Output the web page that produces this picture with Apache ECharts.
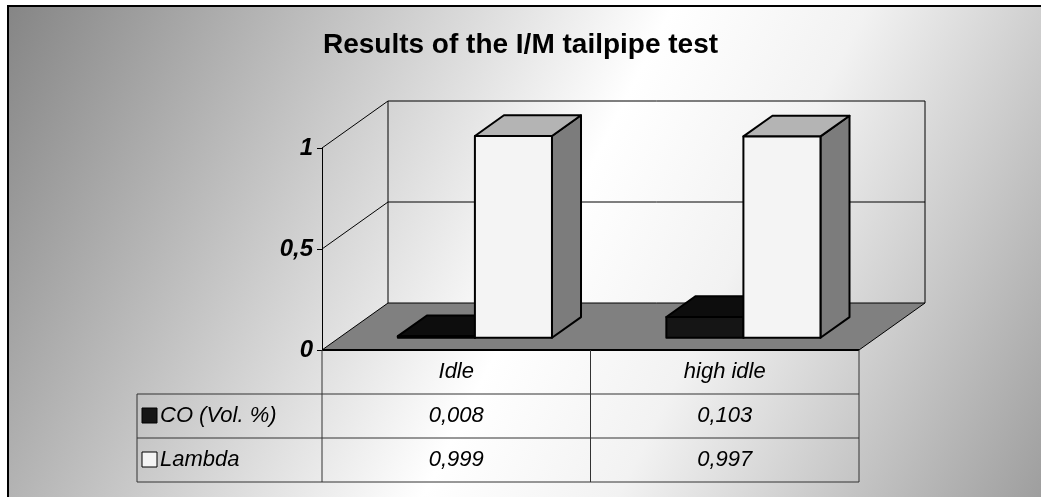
<!DOCTYPE html>
<html>
<head>
<meta charset="utf-8">
<title>Results of the I/M tailpipe test</title>
<script src="https://cdn.jsdelivr.net/npm/echarts@6/dist/echarts.min.js"></script>
<style>
  html, body { margin: 0; padding: 0; background: #fff; }
  #chart { width: 1041px; height: 497px; }
</style>
</head>
<body>
<div id="chart"></div>
<script>
// data
const categories = ['Idle', 'high idle'];
const seriesNames = ['CO (Vol. %)', 'Lambda'];
const coValues = [0.008, 0.103];
const lambdaValues = [0.999, 0.997];
const yTicks = [0, 0.5, 1];

const FONT = "'Liberation Sans', Arial, sans-serif";
const DEPTH = [66, -47];      // 3d depth offset of the floor
const BAR_FRONT = 0.26;       // bar front position inside depth
const BAR_BACK = 0.70;
const BAR_W = 0.287;          // bar width as share of category
const ROW_H = 44;
const LEGEND_W = 185;

const chart = echarts.init(document.getElementById('chart'));

function fmt(v) {
  return String(v).replace('.', ',');
}

// bars data: [category index, value, series index]
const barData = [];
categories.forEach((c, i) => {
  barData.push([i, coValues[i], 0]);
  barData.push([i, lambdaValues[i], 1]);
});

const barColors = [
  { front: '#151515', top: '#0d0d0d', side: '#222222' },
  { front: '#f4f4f4', top: '#b4b4b4', side: '#7c7c7c' }
];

function renderBar(params, api) {
  const i = api.value(0);
  const v = api.value(1);
  const s = api.value(2);
  const base = api.coord([i, 0]);
  const top = api.coord([i, v]);
  const cw = api.size([1, 0])[0];
  const bw = cw * BAR_W;
  const x0 = base[0] + (s === 0 ? -bw : 0) + BAR_FRONT * DEPTH[0] + 1.5;
  const yb = base[1] + BAR_FRONT * DEPTH[1];
  const yt = top[1] + BAR_FRONT * DEPTH[1];
  const dx = (BAR_BACK - BAR_FRONT) * DEPTH[0];
  const dy = (BAR_BACK - BAR_FRONT) * DEPTH[1];
  const col = barColors[s];
  const line = { stroke: '#000', lineWidth: 2, lineJoin: 'round' };
  return {
    type: 'group',
    children: [
      {
        type: 'polygon',
        shape: { points: [[x0 + bw, yt], [x0 + bw + dx, yt + dy], [x0 + bw + dx, yb + dy], [x0 + bw, yb]] },
        style: Object.assign({ fill: col.side }, line)
      },
      {
        type: 'polygon',
        shape: { points: [[x0, yt], [x0 + dx, yt + dy], [x0 + bw + dx, yt + dy], [x0 + bw, yt]] },
        style: Object.assign({ fill: col.top }, line)
      },
      {
        type: 'rect',
        shape: { x: x0, y: yt, width: bw, height: yb - yt },
        style: Object.assign({ fill: col.front }, line)
      }
    ]
  };
}

// walls, floor and back grid lines
function renderFrame(params, api) {
  const cs = params.coordSys;
  const gx = cs.x, gw = cs.width;
  const y0 = api.coord([0, 0])[1];
  const y1 = api.coord([0, 1])[1];
  const kids = [];
  const thin = { stroke: '#000', lineWidth: 1 };
  // floor
  kids.push({
    type: 'polygon',
    shape: { points: [[gx, y0], [gx + gw, y0], [gx + gw + DEPTH[0], y0 + DEPTH[1]], [gx + DEPTH[0], y0 + DEPTH[1]]] },
    style: { fill: '#808080', stroke: '#000', lineWidth: 1 }
  });
  kids.push({
    type: 'line',
    shape: { x1: gx, y1: y0, x2: gx + gw, y2: y0 },
    style: { stroke: '#000', lineWidth: 2 }
  });
  // back wall edges
  kids.push({ type: 'line', shape: { x1: gx + DEPTH[0], y1: y1 + DEPTH[1], x2: gx + DEPTH[0], y2: y0 + DEPTH[1] }, style: thin });
  kids.push({ type: 'line', shape: { x1: gx + gw + DEPTH[0], y1: y1 + DEPTH[1], x2: gx + gw + DEPTH[0], y2: y0 + DEPTH[1] }, style: thin });
  yTicks.forEach(t => {
    if (t === 0) return;
    const y = api.coord([0, t])[1];
    kids.push({ type: 'line', shape: { x1: gx, y1: y, x2: gx + DEPTH[0], y2: y + DEPTH[1] }, style: thin });
    kids.push({ type: 'line', shape: { x1: gx + DEPTH[0], y1: y + DEPTH[1], x2: gx + gw + DEPTH[0], y2: y + DEPTH[1] }, style: thin });
  });
  return { type: 'group', children: kids };
}

// data table under the plot
function renderTable(params, api) {
  const cs = params.coordSys;
  const gx = cs.x, gw = cs.width;
  const y0 = api.coord([0, 0])[1];
  const cw = api.size([1, 0])[0];
  const left = gx - LEGEND_W;
  const bottom = y0 + ROW_H * 3;
  const lineStyle = { stroke: '#333', lineWidth: 1 };
  const textFont = 'italic 22px ' + FONT;
  const kids = [];
  for (let r = 1; r <= 3; r++) {
    kids.push({ type: 'line', shape: { x1: left, y1: y0 + ROW_H * r, x2: gx + gw, y2: y0 + ROW_H * r }, style: lineStyle });
  }
  kids.push({ type: 'line', shape: { x1: left, y1: y0 + ROW_H, x2: left, y2: bottom }, style: lineStyle });
  for (let c = 0; c <= categories.length; c++) {
    kids.push({ type: 'line', shape: { x1: gx + cw * c, y1: y0, x2: gx + cw * c, y2: bottom }, style: lineStyle });
  }
  categories.forEach((name, i) => {
    const cx = api.coord([i, 0])[0];
    kids.push({
      type: 'text',
      style: { text: name, x: cx, y: y0 + ROW_H * 0.5, font: textFont, fill: '#000', align: 'center', verticalAlign: 'middle' }
    });
    [coValues[i], lambdaValues[i]].forEach((v, r) => {
      kids.push({
        type: 'text',
        style: { text: fmt(v), x: cx, y: y0 + ROW_H * (r + 1.5), font: textFont, fill: '#000', align: 'center', verticalAlign: 'middle' }
      });
    });
  });
  seriesNames.forEach((name, r) => {
    const ym = y0 + ROW_H * (r + 1.5);
    kids.push({
      type: 'rect',
      shape: { x: left + 5, y: ym - 8, width: 15, height: 15 },
      style: { fill: r === 0 ? '#151515' : '#f4f4f4', stroke: '#000', lineWidth: 1 }
    });
    kids.push({
      type: 'text',
      style: { text: name, x: left + 23, y: ym, font: textFont, fill: '#000', align: 'left', verticalAlign: 'middle' }
    });
  });
  return { type: 'group', children: kids };
}

const option = {
  animation: false,
  backgroundColor: '#fff',
  title: {
    text: 'Results of the I/M tailpipe test',
    left: 'center',
    top: 26,
    textStyle: { fontFamily: FONT, fontSize: 28, fontWeight: 'bold', color: '#000' }
  },
  graphic: [
    {
      type: 'rect',
      z: -10,
      shape: { x: 8, y: 6, width: 1100, height: 560 },
      style: {
        fill: new echarts.graphic.LinearGradient(0, 0, 1, 1, [
          { offset: 0, color: '#858585' },
          { offset: 0.48, color: '#ffffff' },
          { offset: 0.62, color: '#f2f2f2' },
          { offset: 1, color: '#8a8a8a' }
        ]),
        stroke: '#000',
        lineWidth: 2
      }
    }
  ],
  grid: { left: 322, right: 182, top: 148, bottom: 147 },
  xAxis: {
    type: 'category',
    data: categories,
    axisLine: { show: false },
    axisTick: { show: false },
    axisLabel: { show: false },
    splitLine: { show: false }
  },
  yAxis: {
    type: 'value',
    min: 0,
    max: 1,
    interval: 0.5,
    axisLine: { show: true, lineStyle: { color: '#000', width: 1 } },
    axisTick: { show: true, length: 5, lineStyle: { color: '#000' } },
    splitLine: { show: false },
    axisLabel: {
      margin: 9,
      color: '#000',
      fontFamily: FONT,
      fontSize: 24,
      fontWeight: 'bold',
      fontStyle: 'italic',
      formatter: v => fmt(v)
    }
  },
  series: [
    {
      name: 'frame',
      type: 'custom',
      renderItem: renderFrame,
      data: [[0, 0]],
      silent: true,
      z: 1
    },
    {
      name: 'bars',
      type: 'custom',
      renderItem: renderBar,
      encode: { x: 0, y: 1 },
      data: barData,
      z: 3
    },
    {
      name: 'table',
      type: 'custom',
      renderItem: renderTable,
      data: [[0, 0]],
      silent: true,
      z: 2
    }
  ]
};

chart.setOption(option);
</script>
</body>
</html>
